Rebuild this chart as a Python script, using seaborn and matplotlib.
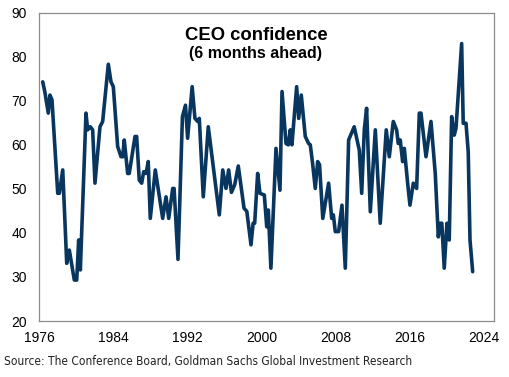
import matplotlib
matplotlib.use("Agg")
import matplotlib.pyplot as plt
import seaborn as sns
import pandas as pd

# CEO confidence (6 months ahead)
year = [1976.37, 1976.6, 1976.97, 1977.15, 1977.37, 1977.99, 1978.17, 1978.53, 1978.96, 1979.24,
        1979.78, 1980.04, 1980.25, 1980.43, 1981.04, 1981.22, 1981.5, 1981.76, 1982.01, 1982.55,
        1982.84, 1983.45, 1983.74, 1983.99, 1984.46, 1984.82, 1985.0, 1985.17, 1985.54, 1985.71,
        1986.33, 1986.51, 1986.79, 1987.05, 1987.27, 1987.52, 1987.76, 1987.98, 1988.52, 1989.32,
        1989.68, 1989.97, 1990.4, 1990.55, 1990.97, 1991.45, 1991.78, 1992.01, 1992.5, 1992.8,
        1993.1, 1993.27, 1993.7, 1994.24, 1995.43, 1995.8, 1996.15, 1996.44, 1996.74, 1997.1,
        1997.48, 1998.1, 1998.4, 1998.85, 1999.08, 1999.25, 1999.57, 1999.82, 2000.29, 2000.55,
        2000.72, 2001.0, 2001.55, 2001.98, 2002.2, 2002.63, 2002.88, 2003.09, 2003.27, 2003.78,
        2004.0, 2004.28, 2004.71, 2005.07, 2005.25, 2005.5, 2005.79, 2006.05, 2006.25, 2006.6,
        2007.23, 2007.56, 2007.74, 2007.95, 2008.31, 2008.67, 2009.03, 2009.39, 2009.99, 2010.54,
        2010.8, 2011.08, 2011.33, 2011.73, 2012.27, 2012.8, 2013.45, 2013.78, 2014.21, 2014.57,
        2014.75, 2014.96, 2015.22, 2015.4, 2015.76, 2016.01, 2016.37, 2016.73, 2017.02, 2017.2,
        2017.74, 2018.28, 2018.74, 2019.07, 2019.28, 2019.45, 2019.71, 2020.0, 2020.25, 2020.51,
        2020.79, 2020.98, 2021.59, 2021.76, 2022.06, 2022.3, 2022.49, 2022.78]
confidence = [74.3, 72.0, 67.2, 71.3, 70.2, 49.0, 49.0, 54.3, 33.1, 36.1,
              29.3, 29.3, 38.4, 31.6, 67.2, 63.4, 64.1, 63.4, 51.3, 64.1,
              65.3, 78.3, 74.3, 73.2, 59.6, 57.3, 57.3, 61.1, 53.5, 53.5,
              61.9, 61.9, 52.0, 51.3, 53.9, 53.5, 56.2, 43.3, 54.3, 43.3,
              48.2, 43.3, 50.1, 50.1, 34.0, 66.4, 69.0, 61.5, 73.2, 66.0,
              65.3, 66.0, 48.2, 64.1, 44.1, 54.3, 50.1, 54.3, 49.2, 51.0,
              55.2, 45.6, 44.9, 37.3, 42.2, 42.2, 53.5, 49.0, 48.6, 41.4,
              45.2, 32.0, 59.2, 49.7, 72.1, 60.3, 60.0, 63.4, 60.0, 73.2,
              66.0, 71.3, 61.9, 60.3, 60.0, 55.8, 50.1, 56.2, 55.5, 43.3,
              51.3, 43.3, 44.1, 40.3, 40.3, 46.3, 32.0, 61.1, 64.1, 58.8,
              49.0, 63.4, 68.3, 44.8, 63.4, 42.2, 63.4, 57.3, 65.3, 63.4,
              60.3, 61.1, 56.2, 59.2, 51.3, 46.3, 51.3, 50.1, 67.2, 67.2,
              57.3, 65.3, 53.5, 39.1, 42.2, 42.2, 32.0, 42.2, 38.4, 66.4,
              62.2, 63.8, 83.0, 64.9, 64.9, 58.4, 38.4, 31.2]

x_ticks = [1976, 1984, 1992, 2000, 2008, 2016, 2024]
y_ticks = [20, 30, 40, 50, 60, 70, 80, 90]

df = pd.DataFrame({"year": year, "confidence": confidence})

sns.set_style("white")
plt.rcParams['font.family'] = ['Liberation Sans', 'DejaVu Sans']

fig = plt.figure(figsize=(5.09, 3.77), dpi=100)
ax = fig.add_axes([0.0772, 0.1485, 0.8933, 0.8178])

sns.lineplot(data=df, x="year", y="confidence", ax=ax, color="#08365f",
             linewidth=2.6, estimator=None, sort=False)

ax.set_xlim(1976, 2025.08)
ax.set_ylim(20, 90)
ax.set_xticks(x_ticks)
ax.set_yticks(y_ticks)
ax.set_xlabel("")
ax.set_ylabel("")
ax.tick_params(axis="x", direction="out", length=4, width=0.8, color="#808080",
               labelsize=10, pad=3, labelcolor="black")
ax.tick_params(axis="y", length=0, labelsize=10, pad=9, labelcolor="black")
for s in ax.spines.values():
    s.set_color("#8c8c8c")
    s.set_linewidth(0.9)
    s.set_visible(True)

ax.text(0.4766, 0.926, "CEO confidence", transform=ax.transAxes, ha="center", va="center",
        fontsize=13.3, fontweight="bold", color="black")
ax.text(0.4766, 0.869, "(6 months ahead)", transform=ax.transAxes, ha="center", va="center",
        fontsize=11.5, fontweight="bold", color="black")

fig.text(0.008, 0.04, "Source: The Conference Board, Goldman Sachs Global Investment Research",
         ha="left", va="center", fontsize=8.6, color="#222222",
         family="DejaVu Sans", fontstretch="condensed")

fig.savefig("out.png", dpi=100)
